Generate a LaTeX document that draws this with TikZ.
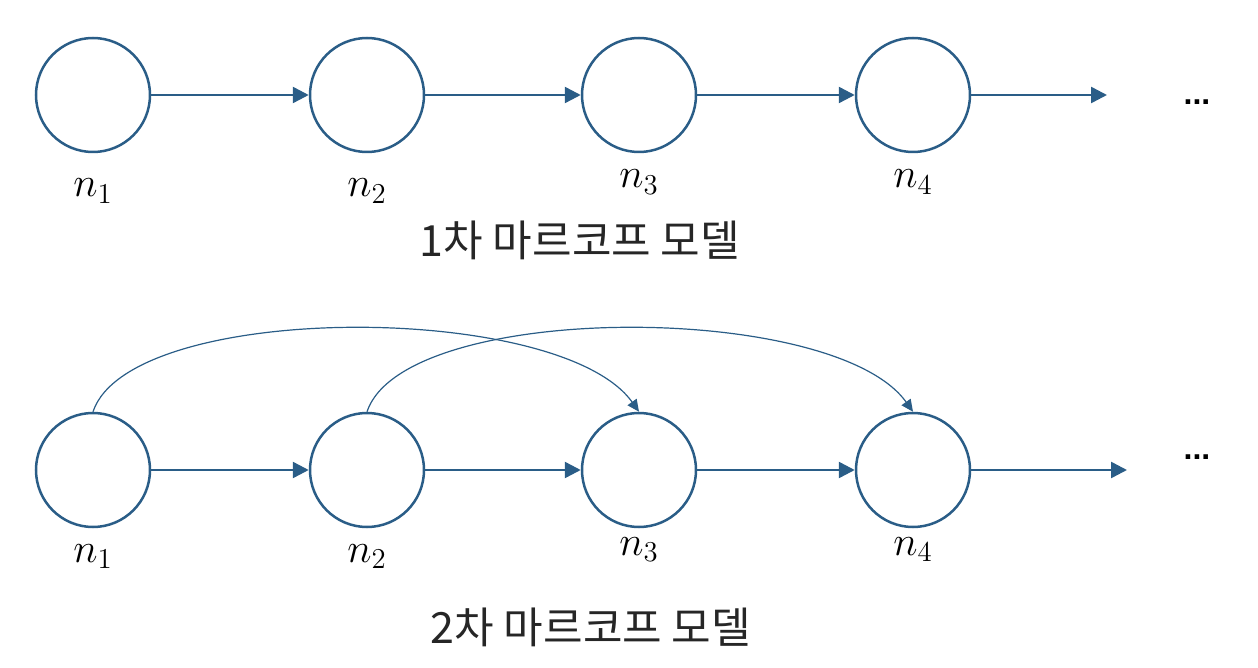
\documentclass[tikz,border=0pt]{standalone}
\usepackage{fontspec}
\newfontfamily\korean{Noto Sans CJK KR}
\newfontfamily\dotsfont{Liberation Sans}
\usetikzlibrary{arrows.meta}
\definecolor{nodeblue}{HTML}{2A5D87}
\begin{document}
\begin{tikzpicture}[x=0.5pt,y=-0.5pt,
  state/.style={circle,draw=nodeblue,line width=1.25pt,minimum size=57pt,inner sep=0pt},
  link/.style={draw=nodeblue,line width=1.25pt,-{Triangle[length=8pt,width=8pt]}},
  jump/.style={draw=nodeblue,line width=0.6pt,-{Triangle[length=6pt,width=5.5pt]}},
  lbl/.style={anchor=base,font=\fontsize{20}{23}\selectfont},
  title/.style={font=\korean\fontsize{21.5}{26}\selectfont,text=black!85},
  more/.style={font=\dotsfont\bfseries\fontsize{16}{18}\selectfont}]
\useasboundingbox (0,0) rectangle (1258,668);
% first-order
\node[state] (a1) at (93,95) {};
\node[state] (a2) at (367,95) {};
\node[state] (a3) at (639,95) {};
\node[state] (a4) at (913,95) {};
\coordinate (ae) at (1107,95);
\draw[link] (a1) -- (a2);
\draw[link] (a2) -- (a3);
\draw[link] (a3) -- (a4);
\draw[link] (a4) -- (ae);
\node[more] (ad) at (1197,102) {...};
\node[lbl] (la1) at (93,197) {$n_1$};
\node[lbl] (la2) at (367,197) {$n_2$};
\node[lbl] (la3) at (639,188) {$n_3$};
\node[lbl] (la4) at (913,188) {$n_4$};
\node[title] (t1) at (580,240) {1차 마르코프 모델};
% second-order
\node[state] (b1) at (93,470) {};
\node[state] (b2) at (367,470) {};
\node[state] (b3) at (639,470) {};
\node[state] (b4) at (913,470) {};
\coordinate (be) at (1127,470);
\draw[link] (b1) -- (b2);
\draw[link] (b2) -- (b3);
\draw[link] (b3) -- (b4);
\draw[link] (b4) -- (be);
\draw[jump] (b1.north) .. controls +(37,-111) and +(-79,-111) .. (b3.north);
\draw[jump] (b2.north) .. controls +(37,-111) and +(-79,-111) .. (b4.north);
\node[more] (bd) at (1197,457) {...};
\node[lbl] (lb1) at (93,562) {$n_1$};
\node[lbl] (lb2) at (367,562) {$n_2$};
\node[lbl] (lb3) at (639,555) {$n_3$};
\node[lbl] (lb4) at (913,555) {$n_4$};
\node[title] (t2) at (591,627) {2차 마르코프 모델};
\end{tikzpicture}
\end{document}
